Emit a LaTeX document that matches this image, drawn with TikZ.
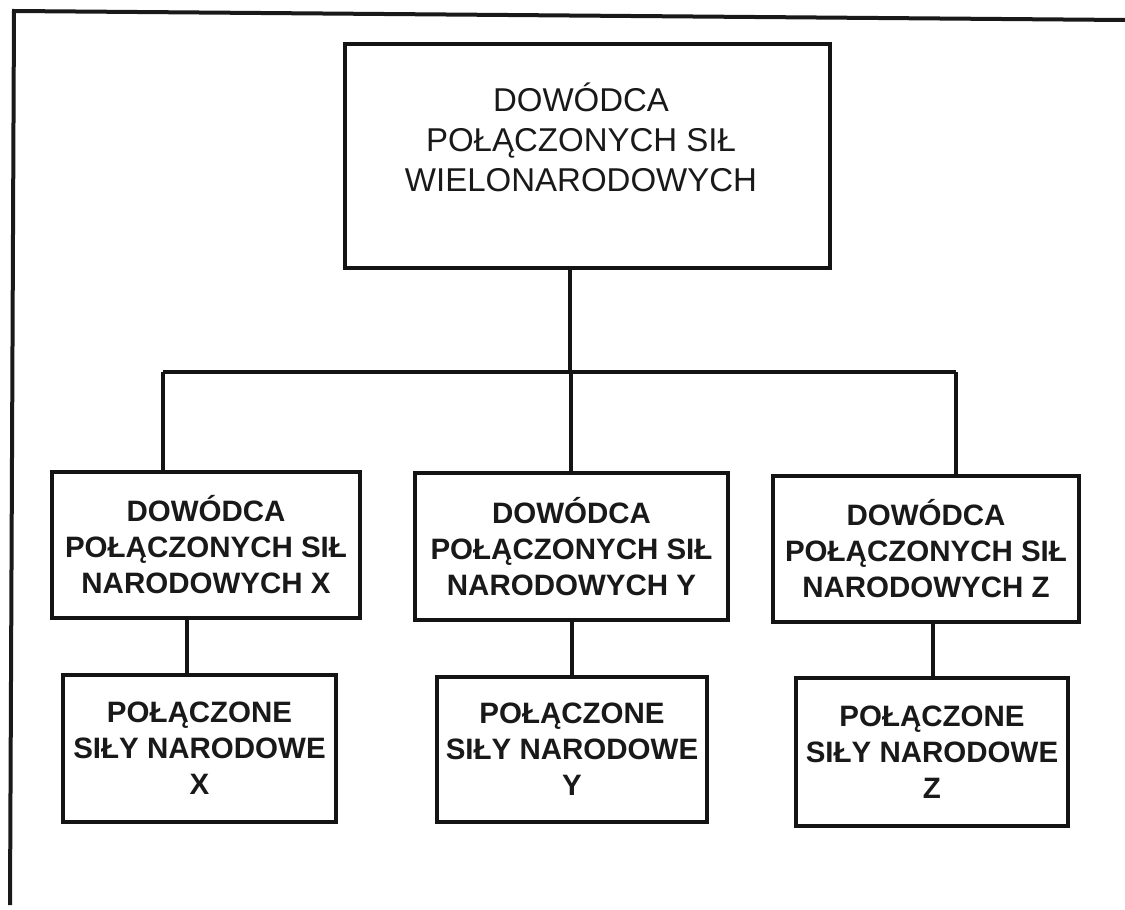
\documentclass[tikz,border=0pt]{standalone}
\usepackage{fontspec}
\setmainfont{Liberation Sans}
\begin{document}
\begin{tikzpicture}[x=1pt,y=-1pt,
  box/.style={draw=black!92,line width=3.5pt,minimum width=#1,inner sep=0pt},
  hd/.style={font=\fontsize{33}{40}\selectfont,align=center,text=black!90},
  unit/.style={font=\bfseries\fontsize{29.5}{36}\selectfont,align=center,text=black!90},
  link/.style={draw=black!92,line width=3.2pt},
  frame/.style={draw=black!90,line width=4pt}]
\useasboundingbox (0,0) rectangle (1125,910);
% page frame (top and left edges)
\draw[frame] (10,905) -- (14,11) -- (1125,20);

% top-level commander
\node[box=485pt,minimum height=224pt] (top) at (587.5,156) {};
\node[hd] (toptxt) at (581,137) {DOWÓDCA\\POŁĄCZONYCH SIŁ\\WIELONARODOWYCH};

% national commanders
\node[box=308pt,minimum height=146pt,unit] (cx) at (206,545) {DOWÓDCA\\POŁĄCZONYCH SIŁ\\NARODOWYCH X};
\node[box=313pt,minimum height=147pt,unit] (cy) at (571.5,546.5) {DOWÓDCA\\POŁĄCZONYCH SIŁ\\NARODOWYCH Y};
\node[box=306pt,minimum height=146pt,unit] (cz) at (926,549) {DOWÓDCA\\POŁĄCZONYCH SIŁ\\NARODOWYCH Z};

% national joint forces
\node[box=273pt,minimum height=147pt,unit] (fx) at (199.5,748.5) {POŁĄCZONE\\SIŁY NARODOWE\\X};
\node[box=270pt,minimum height=145pt,unit] (fy) at (572,749.5) {POŁĄCZONE\\SIŁY NARODOWE\\Y};
\node[box=272pt,minimum height=148pt,unit] (fz) at (932,752) {POŁĄCZONE\\SIŁY NARODOWE\\Z};

% junctions on the distribution bar
\coordinate (jc) at (570,372);
\coordinate (jx) at (163,372);
\coordinate (jy) at (571,372);
\coordinate (jz) at (956,372);
% columns of the lower stems
\coordinate (sx) at (187,0);
\coordinate (sy) at (572,0);
\coordinate (sz) at (933,0);

\draw[link] (top.south -| jc) -- (jc);
\draw[link] (jx) -- (jz);
\draw[link] (jx) -- (jx |- cx.north);
\draw[link] (jy) -- (jy |- cy.north);
\draw[link] (jz) -- (jz |- cz.north);
\draw[link] (cx.south -| sx) -- (fx.north -| sx);
\draw[link] (cy.south -| sy) -- (fy.north -| sy);
\draw[link] (cz.south -| sz) -- (fz.north -| sz);
\end{tikzpicture}
\end{document}
